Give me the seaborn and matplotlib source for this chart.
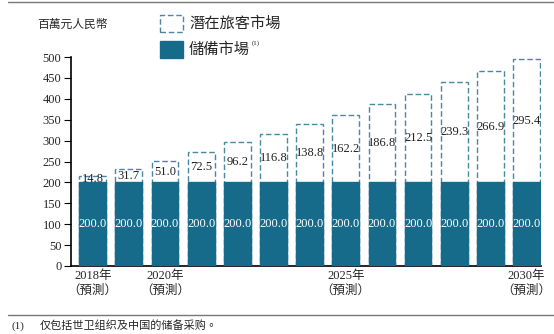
import matplotlib
matplotlib.use("Agg")
import matplotlib.pyplot as plt
import seaborn as sns
import pandas as pd
from matplotlib.patches import Rectangle
from matplotlib.lines import Line2D

years = ["2018", "2019", "2020", "2021", "2022", "2023", "2024", "2025", "2026", "2027", "2028", "2029", "2030"]
potential = [14.8, 31.7, 51.0, 72.5, 96.2, 116.8, 138.8, 162.2, 186.8, 212.5, 239.3, 266.9, 295.4]
reserve = [200.0] * 13
tick_years = ["2018", "2020", "2025", "2030"]
y_ticks = [0, 50, 100, 150, 200, 250, 300, 350, 400, 450, 500]

FILL = "#176b8a"
EDGE = "#4a88a2"
SERIF = ["Liberation Serif", "Noto Sans CJK TC", "DejaVu Sans"]
CJK = ["Noto Sans CJK TC", "Liberation Serif", "DejaVu Sans"]

sns.set_theme(style="white")
plt.rcParams["font.family"] = SERIF

df = pd.DataFrame({"year": years, "potential": potential, "reserve": reserve})
df["total"] = df["potential"] + df["reserve"]

fig = plt.figure(figsize=(5.54, 3.34), dpi=100)
ax = fig.add_axes([71 / 554, 68 / 334, 470 / 554, 209 / 334])

sns.barplot(data=df, x="year", y="total", color="white", width=0.74,
            edgecolor=EDGE, linewidth=1.0, linestyle=(0, (4, 2)), ax=ax, zorder=2)
sns.barplot(data=df, x="year", y="reserve", color=FILL, saturation=1, width=0.74,
            edgecolor=FILL, linewidth=1.0, ax=ax, zorder=3)

for i, (p, r) in enumerate(zip(potential, reserve)):
    ax.text(i, r + p / 2, f"{p:.1f}", ha="center", va="center", fontsize=9,
            color="#222222", family=SERIF, zorder=4)
    ax.text(i, r / 2, f"{r:.1f}", ha="center", va="center", fontsize=9,
            color="white", family=SERIF, zorder=4)

ax.set_ylim(0, 500)
ax.set_xlim(-0.6, 12.4)
ax.set_yticks(y_ticks)
ax.set_yticklabels([str(t) for t in y_ticks], fontsize=9, family=SERIF)
pos = [years.index(y) for y in tick_years]
ax.set_xticks(pos)
ax.set_xticklabels([f"{y}年\n（預測）" for y in tick_years], fontsize=9, family=SERIF,
                   linespacing=1.3)
ax.tick_params(axis="y", direction="out", length=5, width=0.8, color="black", pad=2, left=True)
ax.tick_params(axis="x", length=0, pad=3)
ax.set_xlabel("")
ax.set_ylabel("")
for s in ["top", "right"]:
    ax.spines[s].set_visible(False)
for s in ["left", "bottom"]:
    ax.spines[s].set_color("black")
    ax.spines[s].set_linewidth(1.2)

fig.text(37 / 554, 1 - 24 / 334, "百萬元人民幣", fontsize=8.5, family=CJK, va="center", ha="left")

# legend
fig.patches.append(Rectangle((160 / 554, 1 - 32 / 334), 23 / 554, 17 / 334, transform=fig.transFigure,
                             facecolor="white", edgecolor=EDGE, linewidth=1.0, linestyle=(0, (4, 2))))
fig.patches.append(Rectangle((160 / 554, 1 - 58 / 334), 23 / 554, 17 / 334, transform=fig.transFigure,
                             facecolor=FILL, edgecolor=FILL, linewidth=1.0))
fig.text(189 / 554, 1 - 23 / 334, "潛在旅客市場", fontsize=11, family=CJK, va="center", ha="left")
fig.text(189 / 554, 1 - 49 / 334, "儲備市場", fontsize=11, family=CJK, va="center", ha="left")
fig.text(252 / 554, 1 - 43 / 334, "(1)", fontsize=5, family=SERIF, va="center", ha="left")

# rules and footnote
fig.add_artist(Line2D([8 / 554, 1], [1 - 2 / 334, 1 - 2 / 334], color="#777777", linewidth=1.0,
                      transform=fig.transFigure))
fig.add_artist(Line2D([8 / 554, 1], [1 - 315 / 334, 1 - 315 / 334], color="#777777", linewidth=1.0,
                      transform=fig.transFigure))
fig.text(12 / 554, 1 - 326 / 334, "(1)", fontsize=8, family=SERIF, va="center", ha="left")
fig.text(40 / 554, 1 - 326 / 334, "仅包括世卫组织及中国的储备采购。", fontsize=8, family=CJK,
         va="center", ha="left")

fig.savefig("out.png", dpi=100)
